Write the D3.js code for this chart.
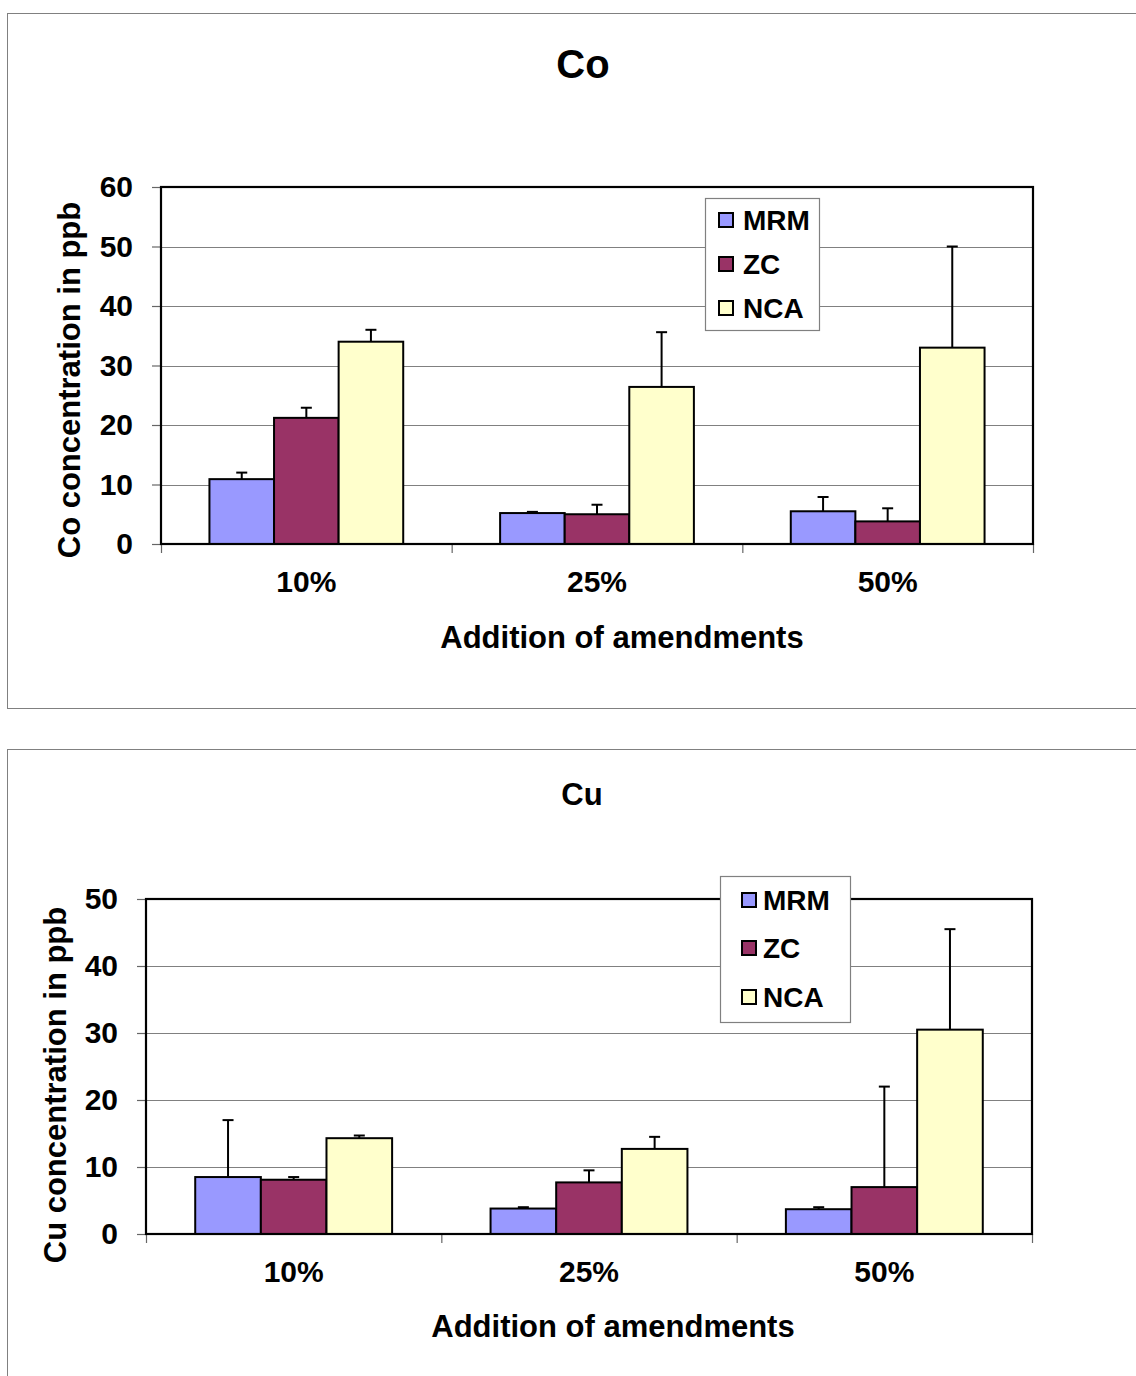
<!DOCTYPE html>
<html>
<head>
<meta charset="utf-8">
<script src="https://cdn.jsdelivr.net/npm/d3@7"></script>
<style>
  html, body { margin: 0; padding: 0; background: #fff; }
  text { font-family: Arial, "Liberation Sans", sans-serif; font-weight: bold; fill: #000; }
</style>
</head>
<body>
<svg id="chart" width="1136" height="1376"></svg>
<script>
// ---------- data ----------
const categories = ["10%", "25%", "50%"];
const seriesNames = ["MRM", "ZC", "NCA"];
const seriesColors = ["#9999FF", "#993366", "#FFFFCC"];

// Co (ppb): mean values per series, per category
const coMRM = [10.9, 5.2, 5.5];
const coZC  = [21.2, 5.0, 3.8];
const coNCA = [34.0, 26.4, 33.0];
// Co upper error amounts
const coErrMRM = [1.1, 0.2, 2.4];
const coErrZC  = [1.7, 1.6, 2.2];
const coErrNCA = [2.0, 9.2, 17.0];
const coTicks = [0, 10, 20, 30, 40, 50, 60];

// Cu (ppb)
const cuMRM = [8.5, 3.8, 3.7];
const cuZC  = [8.1, 7.7, 7.0];
const cuNCA = [14.3, 12.7, 30.5];
const cuErrMRM = [8.5, 0.2, 0.3];
const cuErrZC  = [0.4, 1.8, 15.0];
const cuErrNCA = [0.4, 1.8, 15.0];
const cuTicks = [0, 10, 20, 30, 40, 50];

const svg = d3.select("#chart");
svg.append("rect").attr("width", 1136).attr("height", 1376).attr("fill", "#fff");

function drawChart(cfg) {
  const g = svg.append("g");
  // outer chart frame
  g.append("rect")
    .attr("x", cfg.frame[0] + 0.5).attr("y", cfg.frame[1] + 0.5)
    .attr("width", cfg.frame[2]).attr("height", cfg.frame[3])
    .attr("fill", "#fff").attr("stroke", "#808080").attr("stroke-width", 1);

  const [x0, x1, yTop, yBot] = cfg.plot;
  const x = d3.scaleBand().domain(categories).range([x0, x1]).paddingInner(0).paddingOuter(0);
  const xs = d3.scaleBand().domain(seriesNames).range([0, x.bandwidth()]).paddingInner(0).paddingOuter(0.75);
  const y = d3.scaleLinear().domain([0, d3.max(cfg.ticks)]).range([yBot, yTop]);
  const color = d3.scaleOrdinal().domain(seriesNames).range(seriesColors);

  // gridlines
  g.append("g").selectAll("line").data(cfg.ticks.slice(1, -1)).join("line")
    .attr("x1", x0).attr("x2", x1)
    .attr("y1", d => Math.round(y(d)) + 0.5).attr("y2", d => Math.round(y(d)) + 0.5)
    .attr("stroke", "#808080").attr("stroke-width", 1.2);

  // y axis with labels
  const yAxis = g.append("g").attr("transform", `translate(${x0},0)`)
    .call(d3.axisLeft(y).tickValues(cfg.ticks).tickSize(9).tickPadding(19).tickFormat(d3.format("d")));
  yAxis.select(".domain").remove();
  yAxis.selectAll(".tick line").attr("stroke", "#666").attr("stroke-width", 1.2);
  yAxis.selectAll("text").style("font-size", "30px").attr("fill", "#000");

  // x axis boundary ticks
  const xb = d3.scaleLinear().domain([0, categories.length]).range([x0, x1]);
  const xAxisT = g.append("g").attr("transform", `translate(0,${yBot})`)
    .call(d3.axisBottom(xb).tickValues(d3.range(categories.length + 1)).tickSize(9).tickFormat(""));
  xAxisT.select(".domain").remove();
  xAxisT.selectAll(".tick line").attr("stroke", "#666").attr("stroke-width", 1.2);

  // category labels
  const xAxisL = g.append("g").attr("transform", `translate(0,${yBot})`)
    .call(d3.axisBottom(x).tickSize(0).tickPadding(27));
  xAxisL.select(".domain").remove();
  xAxisL.selectAll("text").style("font-size", "30px").attr("fill", "#000");

  // bars
  const rows = [];
  categories.forEach((c, i) => {
    seriesNames.forEach((s, j) => {
      rows.push({ cat: c, ser: s, v: cfg.values[j][i], e: cfg.errors[j][i] });
    });
  });
  const bars = g.append("g").selectAll("g").data(rows).join("g")
    .attr("transform", d => `translate(${x(d.cat) + xs(d.ser)},0)`);
  bars.append("rect")
    .attr("x", 0).attr("width", xs.bandwidth())
    .attr("y", d => y(d.v)).attr("height", d => y(0) - y(d.v))
    .attr("fill", d => color(d.ser)).attr("stroke", "#000").attr("stroke-width", 2);
  // error bars
  const cx = xs.bandwidth() / 2;
  bars.append("line")
    .attr("x1", cx).attr("x2", cx)
    .attr("y1", d => y(d.v)).attr("y2", d => y(d.v + d.e))
    .attr("stroke", "#000").attr("stroke-width", 2);
  bars.append("line")
    .attr("x1", cx - 5.5).attr("x2", cx + 5.5)
    .attr("y1", d => y(d.v + d.e)).attr("y2", d => y(d.v + d.e))
    .attr("stroke", "#000").attr("stroke-width", 2);

  // plot border
  g.append("rect").attr("x", x0).attr("y", yTop).attr("width", x1 - x0).attr("height", yBot - yTop)
    .attr("fill", "none").attr("stroke", "#000").attr("stroke-width", 2.2);

  // titles
  g.append("text").attr("x", cfg.titlePos[0]).attr("y", cfg.titlePos[1])
    .attr("text-anchor", "middle").style("font-size", cfg.titleSize + "px").text(cfg.title);
  g.append("text").attr("x", cfg.xTitlePos[0]).attr("y", cfg.xTitlePos[1])
    .attr("text-anchor", "middle").style("font-size", "31px").text("Addition of amendments");
  g.append("text")
    .attr("transform", `translate(${cfg.yTitlePos[0]},${cfg.yTitlePos[1]}) rotate(-90)`)
    .attr("text-anchor", "middle").style("font-size", "31px").text(cfg.yTitle);

  // legend
  const [lx, ly, lw, lh] = cfg.legendBox;
  const lg = g.append("g");
  lg.append("rect").attr("x", lx + 0.5).attr("y", ly + 0.5).attr("width", lw).attr("height", lh)
    .attr("fill", "#fff").attr("stroke", "#808080").attr("stroke-width", 1.2);
  const items = lg.selectAll("g").data(seriesNames).join("g")
    .attr("transform", (d, i) => `translate(${lx},${cfg.legendRows[i]})`);
  items.append("rect").attr("x", cfg.legendSwatchX - lx + 1).attr("y", -7)
    .attr("width", 14).attr("height", 14)
    .attr("fill", d => color(d)).attr("stroke", "#000").attr("stroke-width", 2);
  items.append("text").attr("x", cfg.legendTextX - lx).attr("y", 10)
    .style("font-size", "28px").text(d => d);
}

drawChart({
  frame: [7, 13, 1140, 695],
  plot: [161, 1033, 187, 544],
  ticks: coTicks,
  values: [coMRM, coZC, coNCA],
  errors: [coErrMRM, coErrZC, coErrNCA],
  title: "Co", titleSize: 40, titlePos: [583, 78],
  xTitlePos: [622, 648],
  yTitle: "Co concentration in ppb", yTitlePos: [80, 380],
  legendBox: [705, 198, 114, 132],
  legendRows: [220, 264, 308],
  legendSwatchX: 718, legendTextX: 743
});

drawChart({
  frame: [7, 749, 1140, 700],
  plot: [146, 1032, 899, 1234],
  ticks: cuTicks,
  values: [cuMRM, cuZC, cuNCA],
  errors: [cuErrMRM, cuErrZC, cuErrNCA],
  title: "Cu", titleSize: 31, titlePos: [582, 805],
  xTitlePos: [613, 1337],
  yTitle: "Cu concentration in ppb", yTitlePos: [66, 1085],
  legendBox: [720, 876, 130, 146],
  legendRows: [900, 948, 997],
  legendSwatchX: 741, legendTextX: 763
});
</script>
</body>
</html>
